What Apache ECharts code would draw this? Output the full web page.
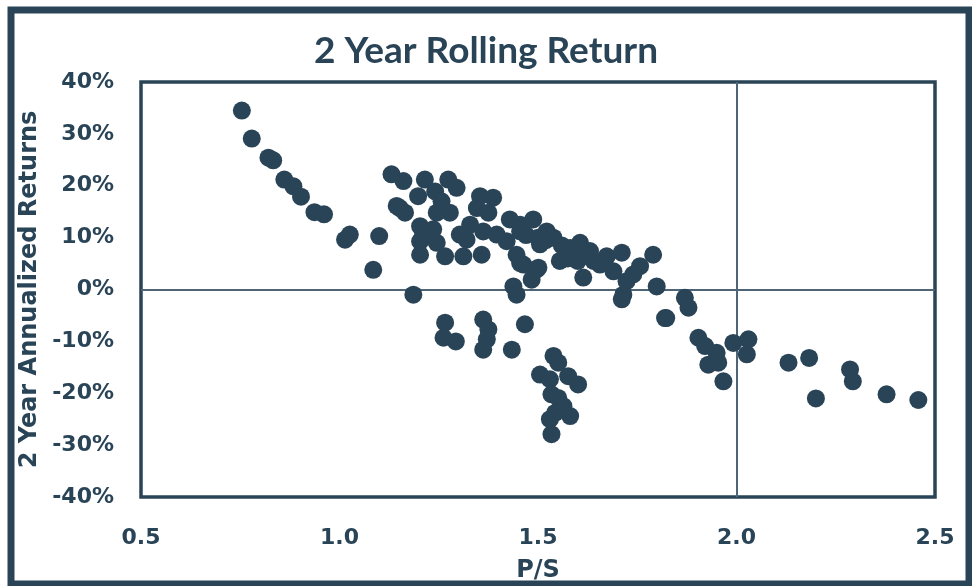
<!DOCTYPE html>
<html>
<head>
<meta charset="utf-8">
<script src="https://cdn.jsdelivr.net/npm/echarts@6/dist/echarts.min.js"></script>
<style>
  html, body { margin: 0; padding: 0; background: #ffffff; }
  #chart { width: 972px; height: 586px; }
</style>
</head>
<body>
<div id="chart"></div>
<script>
// P/S ratio at the start of each window
const priceToSales = [
  0.754, 0.779, 0.821, 0.833, 0.861, 0.884, 0.903, 0.937, 0.961, 1.014,
  1.026, 1.100, 1.085, 1.131, 1.144, 1.186, 1.161, 1.152, 1.165, 1.215,
  1.198, 1.203, 1.210, 1.203, 1.274, 1.295, 1.241, 1.257, 1.278, 1.245,
  1.354, 1.387, 1.346, 1.375, 1.236, 1.203, 1.245, 1.266, 1.303, 1.329,
  1.320, 1.312, 1.358, 1.362, 1.396, 1.429, 1.421, 1.455, 1.446, 1.463,
  1.488, 1.455, 1.522, 1.539, 1.505, 1.455, 1.555, 1.581, 1.606, 1.631,
  1.614, 1.497, 1.484, 1.438, 1.446, 1.656, 1.673, 1.711, 1.690, 1.723,
  1.715, 1.757, 1.740, 1.790, 1.799, 1.820, 1.711, 1.501, 1.470, 1.500,
  1.520, 1.560, 1.590, 1.620, 1.640, 1.600, 1.575, 1.266, 1.262, 1.293,
  1.362, 1.375, 1.371, 1.362, 1.434, 1.467, 1.539, 1.551, 1.505, 1.530,
  1.576, 1.601, 1.534, 1.551, 1.564, 1.581, 1.530, 1.543, 1.534, 1.870,
  1.879, 1.823, 1.904, 1.921, 1.950, 1.929, 1.954, 1.967, 1.992, 2.030,
  2.026, 2.131, 2.183, 2.200, 2.286, 2.293, 2.378, 2.458
];
// Annualized return over the following two years, in percent
const twoYearReturn = [
  34.5, 29.1, 25.4, 24.9, 21.2, 19.9, 17.9, 14.9, 14.5, 9.6,
  10.6, 10.3, 3.8, 22.2, 16.1, -1.0, 20.9, 15.7, 14.8, 21.2,
  18.0, 12.2, 10.3, 6.7, 21.2, 19.6, 18.9, 17.0, 14.8, 14.8,
  18.0, 17.7, 15.7, 14.8, 11.6, 9.3, 9.0, 6.4, 10.6, 12.5,
  9.6, 6.4, 6.7, 11.2, 10.6, 13.5, 9.3, 12.5, 6.7, 4.8,
  13.5, 11.2, 11.2, 10.0, 8.7, 5.1, 5.5, 8.0, 9.0, 7.4,
  2.3, 3.9, 1.9, 0.6, -1.0, 4.8, 6.4, 7.1, 3.5, 1.6,
  -1.0, 4.5, 2.9, 6.7, 0.6, -5.5, -1.9, 4.2, 10.5, 10.0,
  9.5, 8.5, 7.5, 6.5, 5.5, 5.5, 6.0, -6.4, -9.3, -10.0,
  -5.8, -7.7, -9.6, -11.6, -11.6, -6.7, -12.8, -14.1, -16.4, -17.3,
  -16.7, -18.3, -20.2, -20.9, -22.5, -24.4, -25.0, -23.8, -27.9, -1.6,
  -3.5, -5.5, -9.3, -10.9, -12.2, -14.5, -14.1, -17.7, -10.3, -9.6,
  -12.5, -14.1, -13.2, -21.0, -15.4, -17.7, -20.2, -21.3
];

const xTicks = [0.5, 1.0, 1.5, 2.0, 2.5];
const yTicks = [-40, -30, -20, -10, 0, 10, 20, 30, 40];

const INK = '#2a4457';
const LABEL_FONT = '"DejaVu Sans", "Open Sans", sans-serif';
const points = priceToSales.map((x, i) => [x, twoYearReturn[i]]);

const chart = echarts.init(document.getElementById('chart'), null, { renderer: 'canvas' });

chart.setOption({
  animation: false,
  backgroundColor: '#ffffff',
  title: {
    text: '2 Year Rolling Return',
    left: 'center',
    top: 28,
    textStyle: {
      fontFamily: 'Lato, sans-serif',
      fontWeight: 'bold',
      fontSize: 37,
      color: INK
    }
  },
  graphic: [{
    type: 'rect',
    shape: { x: 11, y: 10, width: 958, height: 574 },
    style: { fill: 'none', stroke: INK, lineWidth: 7 },
    silent: true,
    z: 100
  }],
  grid: {
    left: 141, right: 37, top: 82, bottom: 89,
    show: true,
    borderColor: INK,
    borderWidth: 3.5,
    outerBoundsMode: 'none'
  },
  xAxis: {
    type: 'value',
    min: xTicks[0],
    max: xTicks[xTicks.length - 1],
    interval: 0.5,
    name: 'P/S',
    nameLocation: 'middle',
    nameGap: 62,
    nameTextStyle: { fontFamily: LABEL_FONT, fontWeight: 'bold', fontSize: 24, color: INK },
    axisLine: { show: false },
    axisTick: { show: false },
    splitLine: { show: false },
    axisLabel: {
      margin: 30,
      fontFamily: LABEL_FONT, fontWeight: 'bold', fontSize: 22, color: INK,
      formatter: v => v.toFixed(1)
    }
  },
  yAxis: {
    type: 'value',
    min: yTicks[0],
    max: yTicks[yTicks.length - 1],
    interval: 10,
    name: '2 Year Annualized Returns',
    nameLocation: 'middle',
    nameGap: 88,
    nameTextStyle: { fontFamily: LABEL_FONT, fontWeight: 'bold', fontSize: 24, color: INK },
    axisLine: { show: false },
    axisTick: { show: false },
    splitLine: { show: false },
    axisLabel: {
      margin: 27,
      fontFamily: LABEL_FONT, fontWeight: 'bold', fontSize: 22, color: INK,
      formatter: v => v + '%'
    }
  },
  series: [{
    type: 'scatter',
    data: points,
    symbolSize: 18,
    itemStyle: { color: INK, opacity: 1 },
    markLine: {
      silent: true,
      symbol: 'none',
      label: { show: false },
      lineStyle: { color: '#4d6577', width: 2, type: 'solid' },
      data: [{ xAxis: 2.0 }, { yAxis: 0 }],
      z: 1
    },
    z: 3
  }]
});
</script>
</body>
</html>
